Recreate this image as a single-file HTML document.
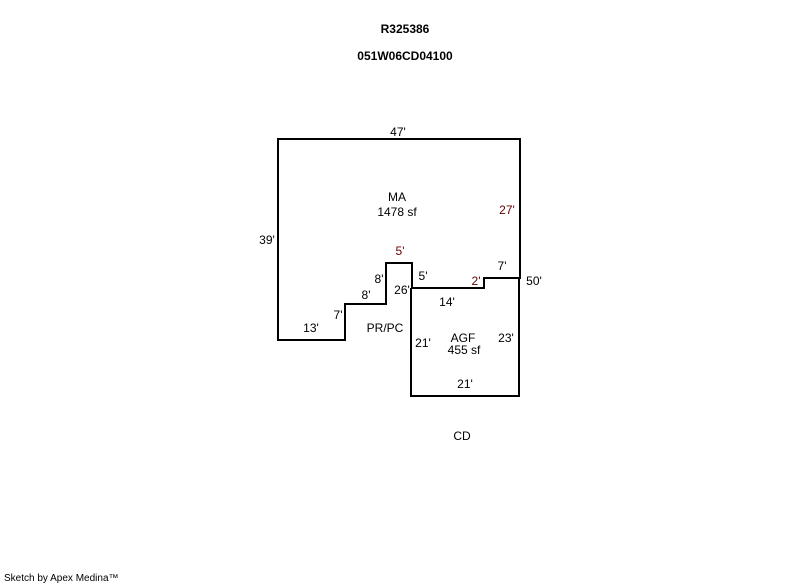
<!DOCTYPE html>
<html><head><style>
body{margin:0;width:800px;height:587px;background:#fff;position:relative;font-family:"Liberation Sans",Arial,sans-serif;overflow:hidden}
.t{position:absolute;font-size:12px;color:#000;white-space:nowrap;line-height:14px}
.c{transform:translateX(-50%)}
.b{font-weight:bold}
.r{color:#600}
</style></head><body>
<svg width="800" height="587" style="position:absolute;left:0;top:0">
<polygon points="278,139 520,139 520,278 484,278 484,288 412,288 412,263 386,263 386,304 345,304 345,340 278,340" fill="none" stroke="#000" stroke-width="2"/>
<polyline points="411,288 411,396 519,396 519,278" fill="none" stroke="#000" stroke-width="2"/>
</svg>
<div class="t c b" style="left:405px;top:22px">R325386</div>
<div class="t c b" style="left:405px;top:49px">051W06CD04100</div>
<div class="t c" style="left:398px;top:125px">47'</div>
<div class="t c" style="left:397px;top:190px">MA</div>
<div class="t c" style="left:397px;top:205px">1478 sf</div>
<div class="t c r" style="left:507px;top:203px">27'</div>
<div class="t c" style="left:267px;top:233px">39'</div>
<div class="t c r" style="left:400px;top:244px">5'</div>
<div class="t c" style="left:502px;top:259px">7'</div>
<div class="t c" style="left:379px;top:272px">8'</div>
<div class="t c" style="left:423px;top:269px">5'</div>
<div class="t c r" style="left:476px;top:274px">2'</div>
<div class="t c" style="left:534px;top:274px">50'</div>
<div class="t c" style="left:402px;top:283px">26'</div>
<div class="t c" style="left:366px;top:288px">8'</div>
<div class="t c" style="left:447px;top:295px">14'</div>
<div class="t c" style="left:338px;top:308px">7'</div>
<div class="t c" style="left:311px;top:321px">13'</div>
<div class="t c" style="left:385px;top:321px">PR/PC</div>
<div class="t c" style="left:463px;top:331px">AGF</div>
<div class="t c" style="left:464px;top:343px">455 sf</div>
<div class="t c" style="left:423px;top:336px">21'</div>
<div class="t c" style="left:506px;top:331px">23'</div>
<div class="t c" style="left:465px;top:377px">21'</div>
<div class="t c" style="left:462px;top:429px">CD</div>
<div class="t" style="left:4px;top:573px;font-size:10px;line-height:12px">Sketch by Apex Medina™</div>
</body></html>
